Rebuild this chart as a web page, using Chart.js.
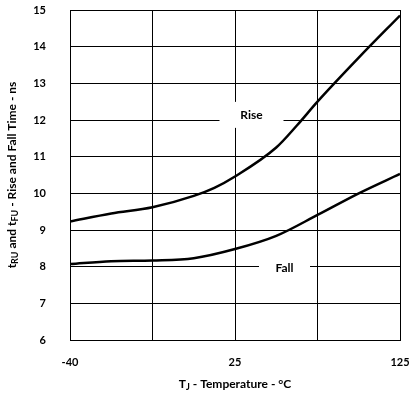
<!DOCTYPE html>
<html>
<head>
<meta charset="utf-8">
<script src="https://cdn.jsdelivr.net/npm/chart.js@4.4.1/dist/chart.umd.min.js"></script>
<style>
  html, body { margin: 0; padding: 0; background: #fff; }
  #wrap { width: 410px; height: 393px; }
</style>
</head>
<body>
<div id="wrap"><canvas id="c" width="410" height="393"></canvas></div>
<script>
// x positions along the evenly divided temperature axis (0 = -40 °C, 2 = 25 °C, 4 = 125 °C)
const risePositions = [0, 0.5, 1, 1.5, 1.75, 2, 2.5, 2.75, 3, 3.5, 4];
const riseValues    = [9.23, 9.45, 9.62, 9.93, 10.15, 10.46, 11.25, 11.85, 12.5, 13.7, 14.85];
const fallPositions = [0, 0.5, 1, 1.5, 2, 2.5, 3, 3.5, 4];
const fallValues    = [8.07, 8.15, 8.17, 8.23, 8.48, 8.84, 9.41, 10.0, 10.53];
const xTickLabels   = ['-40', '', '25', '', '125'];
const yMin = 6, yMax = 15;
const seriesNames = ['Rise', 'Fall'];

const FONT = 'Lato, "Open Sans", sans-serif';

function toPoints(xs, ys) { return xs.map((x, i) => ({ x: x, y: ys[i] })); }

const labelPlugin = {
  id: 'labels',
  beforeDatasetsDraw(chart) {
    const ctx = chart.ctx;
    const xs = chart.scales.x, ys = chart.scales.y;
    const items = [
      { text: seriesNames[0], x: 2.2, y: 12.14, w: 64, h: 26 },
      { text: seriesNames[1], x: 2.6, y: 7.95, w: 51, h: 25 }
    ];
    ctx.save();
    items.forEach(it => {
      const cx = xs.getPixelForValue(it.x), cy = ys.getPixelForValue(it.y);
      ctx.fillStyle = '#fff';
      ctx.fillRect(cx - it.w / 2, cy - it.h / 2, it.w, it.h);
      ctx.fillStyle = '#000';
      ctx.font = 'bold 12px ' + FONT;
      ctx.textAlign = 'center';
      ctx.textBaseline = 'middle';
      ctx.fillText(it.text, cx, cy);
    });
    ctx.restore();
  },
  afterDraw(chart) {
    const ctx = chart.ctx;
    const a = chart.chartArea;
    const main = 'bold 12px ' + FONT;
    const sub = 'bold 9px ' + FONT;
    function drawRich(parts, cx, cy) {
      let total = 0;
      parts.forEach(p => { ctx.font = p[1] ? sub : main; total += ctx.measureText(p[0]).width; });
      let x = cx - total / 2;
      ctx.textAlign = 'left';
      ctx.textBaseline = 'middle';
      parts.forEach(p => {
        ctx.font = p[1] ? sub : main;
        ctx.fillText(p[0], x, cy + (p[1] ? 3 : 0));
        x += ctx.measureText(p[0]).width;
      });
    }
    ctx.save();
    ctx.fillStyle = '#000';
    drawRich([['T', 0], ['J', 1], [' - Temperature - \u00B0C', 0]], (a.left + a.right) / 2, 384);
    ctx.translate(12, (a.top + a.bottom) / 2);
    ctx.rotate(-Math.PI / 2);
    drawRich([['t', 0], ['RU', 1], [' and t', 0], ['FU', 1], [' - Rise and Fall Time - ns', 0]], 0, 0);
    ctx.restore();
  }
};

new Chart(document.getElementById('c'), {
  type: 'line',
  data: {
    datasets: [
      { label: seriesNames[0], data: toPoints(risePositions, riseValues), borderColor: '#000', borderWidth: 2.5, pointRadius: 0, cubicInterpolationMode: 'monotone', fill: false },
      { label: seriesNames[1], data: toPoints(fallPositions, fallValues), borderColor: '#000', borderWidth: 2.5, pointRadius: 0, cubicInterpolationMode: 'monotone', fill: false }
    ]
  },
  options: {
    responsive: false,
    animation: false,
    layout: { padding: { top: 10, right: 10, left: 0, bottom: 0 } },
    plugins: { legend: { display: false }, tooltip: { enabled: false } },
    scales: {
      x: {
        type: 'linear', min: 0, max: 4,
        afterFit(s) { s.height = 53; s.paddingLeft = 0; s.paddingRight = 0; },
        ticks: {
          stepSize: 1, autoSkip: false, maxRotation: 0, padding: 16,
          color: '#000', font: { family: FONT, size: 11, weight: 'bold' },
          callback: (v) => xTickLabels[Math.round(v)] ?? ''
        },
        grid: { color: '#000', lineWidth: 1, drawTicks: false },
        border: { color: '#000', width: 1 }
      },
      y: {
        type: 'linear', min: yMin, max: yMax,
        afterFit(s) { s.width = 70; s.paddingTop = 0; s.paddingBottom = 0; },
        ticks: {
          stepSize: 1, padding: 24,
          color: '#000', font: { family: FONT, size: 11, weight: 'bold' }
        },
        grid: { color: '#000', lineWidth: 1, drawTicks: false },
        border: { color: '#000', width: 1 }
      }
    }
  },
  plugins: [labelPlugin]
});
</script>
</body>
</html>
